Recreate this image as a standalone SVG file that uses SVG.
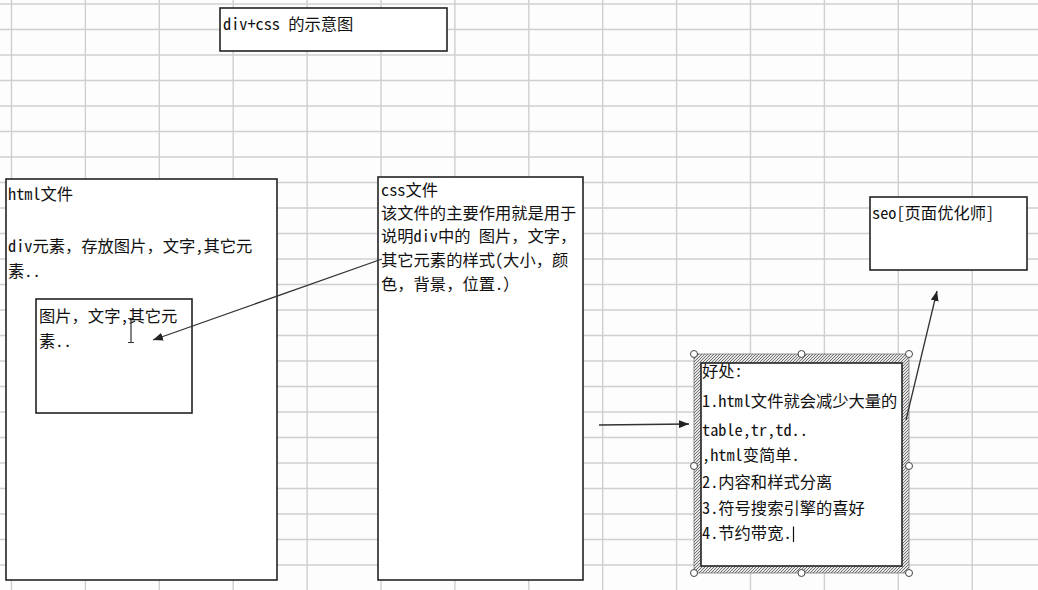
<svg xmlns="http://www.w3.org/2000/svg" width="1038" height="590" viewBox="0 0 1038 590">
<defs>
<style>
.grid line{stroke:#cfcfcf;stroke-width:1.4}
.box{fill:#fff;stroke:#222;stroke-width:1.6}
.t{font-family:"Noto Sans Mono CJK SC","Noto Sans CJK SC","Liberation Mono",monospace;font-size:16.3px;fill:#111}
.conn{stroke:#333;stroke-width:1.3;fill:none}
.handle{fill:#fff;stroke:#444;stroke-width:1}
</style>
<marker id="ah" viewBox="0 0 10 8" refX="10" refY="4" markerWidth="10" markerHeight="8" markerUnits="userSpaceOnUse" orient="auto">
<path d="M0,0 L10,4 L0,8 Z" fill="#222"/>
</marker>
<pattern id="hatch" width="3" height="3" patternUnits="userSpaceOnUse">
<rect width="3" height="3" fill="#e6e6e6"/>
<path d="M-1,1 L1,-1 M0,3 L3,0 M2,4 L4,2" stroke="#555" stroke-width="0.8"/>
</pattern>
</defs>
<rect width="1038" height="590" fill="#fdfdfd"/>
<g class="grid" id="grid">
<line x1="11.5" y1="0" x2="11.5" y2="590"/>
<line x1="85.4" y1="0" x2="85.4" y2="590"/>
<line x1="159.3" y1="0" x2="159.3" y2="590"/>
<line x1="233.2" y1="0" x2="233.2" y2="590"/>
<line x1="307.1" y1="0" x2="307.1" y2="590"/>
<line x1="381" y1="0" x2="381" y2="590"/>
<line x1="454.9" y1="0" x2="454.9" y2="590"/>
<line x1="528.8" y1="0" x2="528.8" y2="590"/>
<line x1="602.7" y1="0" x2="602.7" y2="590"/>
<line x1="676.6" y1="0" x2="676.6" y2="590"/>
<line x1="750.5" y1="0" x2="750.5" y2="590"/>
<line x1="824.4" y1="0" x2="824.4" y2="590"/>
<line x1="898.3" y1="0" x2="898.3" y2="590"/>
<line x1="972.2" y1="0" x2="972.2" y2="590"/>
<line x1="0" y1="4" x2="1038" y2="4"/>
<line x1="0" y1="29.5" x2="1038" y2="29.5"/>
<line x1="0" y1="55" x2="1038" y2="55"/>
<line x1="0" y1="80.5" x2="1038" y2="80.5"/>
<line x1="0" y1="106" x2="1038" y2="106"/>
<line x1="0" y1="131.5" x2="1038" y2="131.5"/>
<line x1="0" y1="157" x2="1038" y2="157"/>
<line x1="0" y1="182.5" x2="1038" y2="182.5"/>
<line x1="0" y1="208" x2="1038" y2="208"/>
<line x1="0" y1="233.5" x2="1038" y2="233.5"/>
<line x1="0" y1="259" x2="1038" y2="259"/>
<line x1="0" y1="284.5" x2="1038" y2="284.5"/>
<line x1="0" y1="310" x2="1038" y2="310"/>
<line x1="0" y1="335.5" x2="1038" y2="335.5"/>
<line x1="0" y1="361" x2="1038" y2="361"/>
<line x1="0" y1="386.5" x2="1038" y2="386.5"/>
<line x1="0" y1="412" x2="1038" y2="412"/>
<line x1="0" y1="437.5" x2="1038" y2="437.5"/>
<line x1="0" y1="463" x2="1038" y2="463"/>
<line x1="0" y1="488.5" x2="1038" y2="488.5"/>
<line x1="0" y1="514" x2="1038" y2="514"/>
<line x1="0" y1="539.5" x2="1038" y2="539.5"/>
<line x1="0" y1="565" x2="1038" y2="565"/>
</g>
<g id="title">
<rect class="box" x="220" y="8" width="227" height="43"/>
<text class="t" x="223" y="30" xml:space="preserve">div+css 的示意图</text>
</g>
<g id="html">
<rect class="box" x="6" y="179" width="271" height="401"/>
<text class="t" x="8" y="200">html文件</text>
<text class="t" x="8" y="251.5">div元素，存放图片，文字,其它元</text>
<text class="t" x="8" y="277">素..</text>
</g>
<g id="inner">
<rect class="box" x="36" y="299" width="156" height="114"/>
<text class="t" x="39" y="321.5">图片，文字,其它元</text>
<text class="t" x="39" y="346.5">素..</text>
<path d="M128,318.5 H134 M131,318.5 V342.5 M128,342.5 H134" stroke="#333" stroke-width="1.2" fill="none"/>
</g>
<g id="css">
<rect class="box" x="378" y="177" width="205" height="403"/>
<text class="t" x="381" y="195.5">css文件</text>
<text class="t" x="381" y="219">该文件的主要作用就是用于</text>
<text class="t" x="381" y="242" xml:space="preserve">说明div中的 图片，文字，</text>
<text class="t" x="381" y="265.5">其它元素的样式(大小，颜</text>
<text class="t" x="381" y="290">色，背景，位置.）</text>
</g>
<g id="benefits">
<rect x="694" y="354" width="215" height="219" fill="url(#hatch)" stroke="#777" stroke-width="0.8"/>
<rect class="box" x="701" y="363" width="201" height="203"/>
<circle class="handle" cx="694" cy="354" r="3.5"/>
<circle class="handle" cx="801.5" cy="354" r="3.5"/>
<circle class="handle" cx="909" cy="354" r="3.5"/>
<circle class="handle" cx="694" cy="466" r="3.5"/>
<circle class="handle" cx="909" cy="466" r="3.5"/>
<circle class="handle" cx="694" cy="573" r="3.5"/>
<circle class="handle" cx="801.5" cy="573" r="3.5"/>
<circle class="handle" cx="909" cy="573" r="3.5"/>
<text class="t" x="702" y="377">好处:</text>
<text class="t" x="702" y="406.5">1.html文件就会减少大量的</text>
<text class="t" x="702" y="435.5">table,tr,td..</text>
<text class="t" x="702" y="460.5">,html变简单.</text>
<text class="t" x="702" y="487.5">2.内容和样式分离</text>
<text class="t" x="702" y="514">3.符号搜索引擎的喜好</text>
<text class="t" x="702" y="539">4.节约带宽.</text>
<line x1="793.5" y1="526.5" x2="793.5" y2="542" stroke="#111" stroke-width="1.2"/>
</g>
<g id="seo">
<rect class="box" x="870" y="197" width="157" height="73"/>
<text class="t" x="872" y="219">seo[页面优化师]</text>
</g>
<g id="connectors">
<line class="conn" x1="382" y1="259" x2="153" y2="340" marker-end="url(#ah)"/>
<line class="conn" x1="599" y1="425" x2="689" y2="424" marker-end="url(#ah)"/>
<line class="conn" x1="906" y1="420" x2="937" y2="291" marker-end="url(#ah)"/>
</g>
</svg>
